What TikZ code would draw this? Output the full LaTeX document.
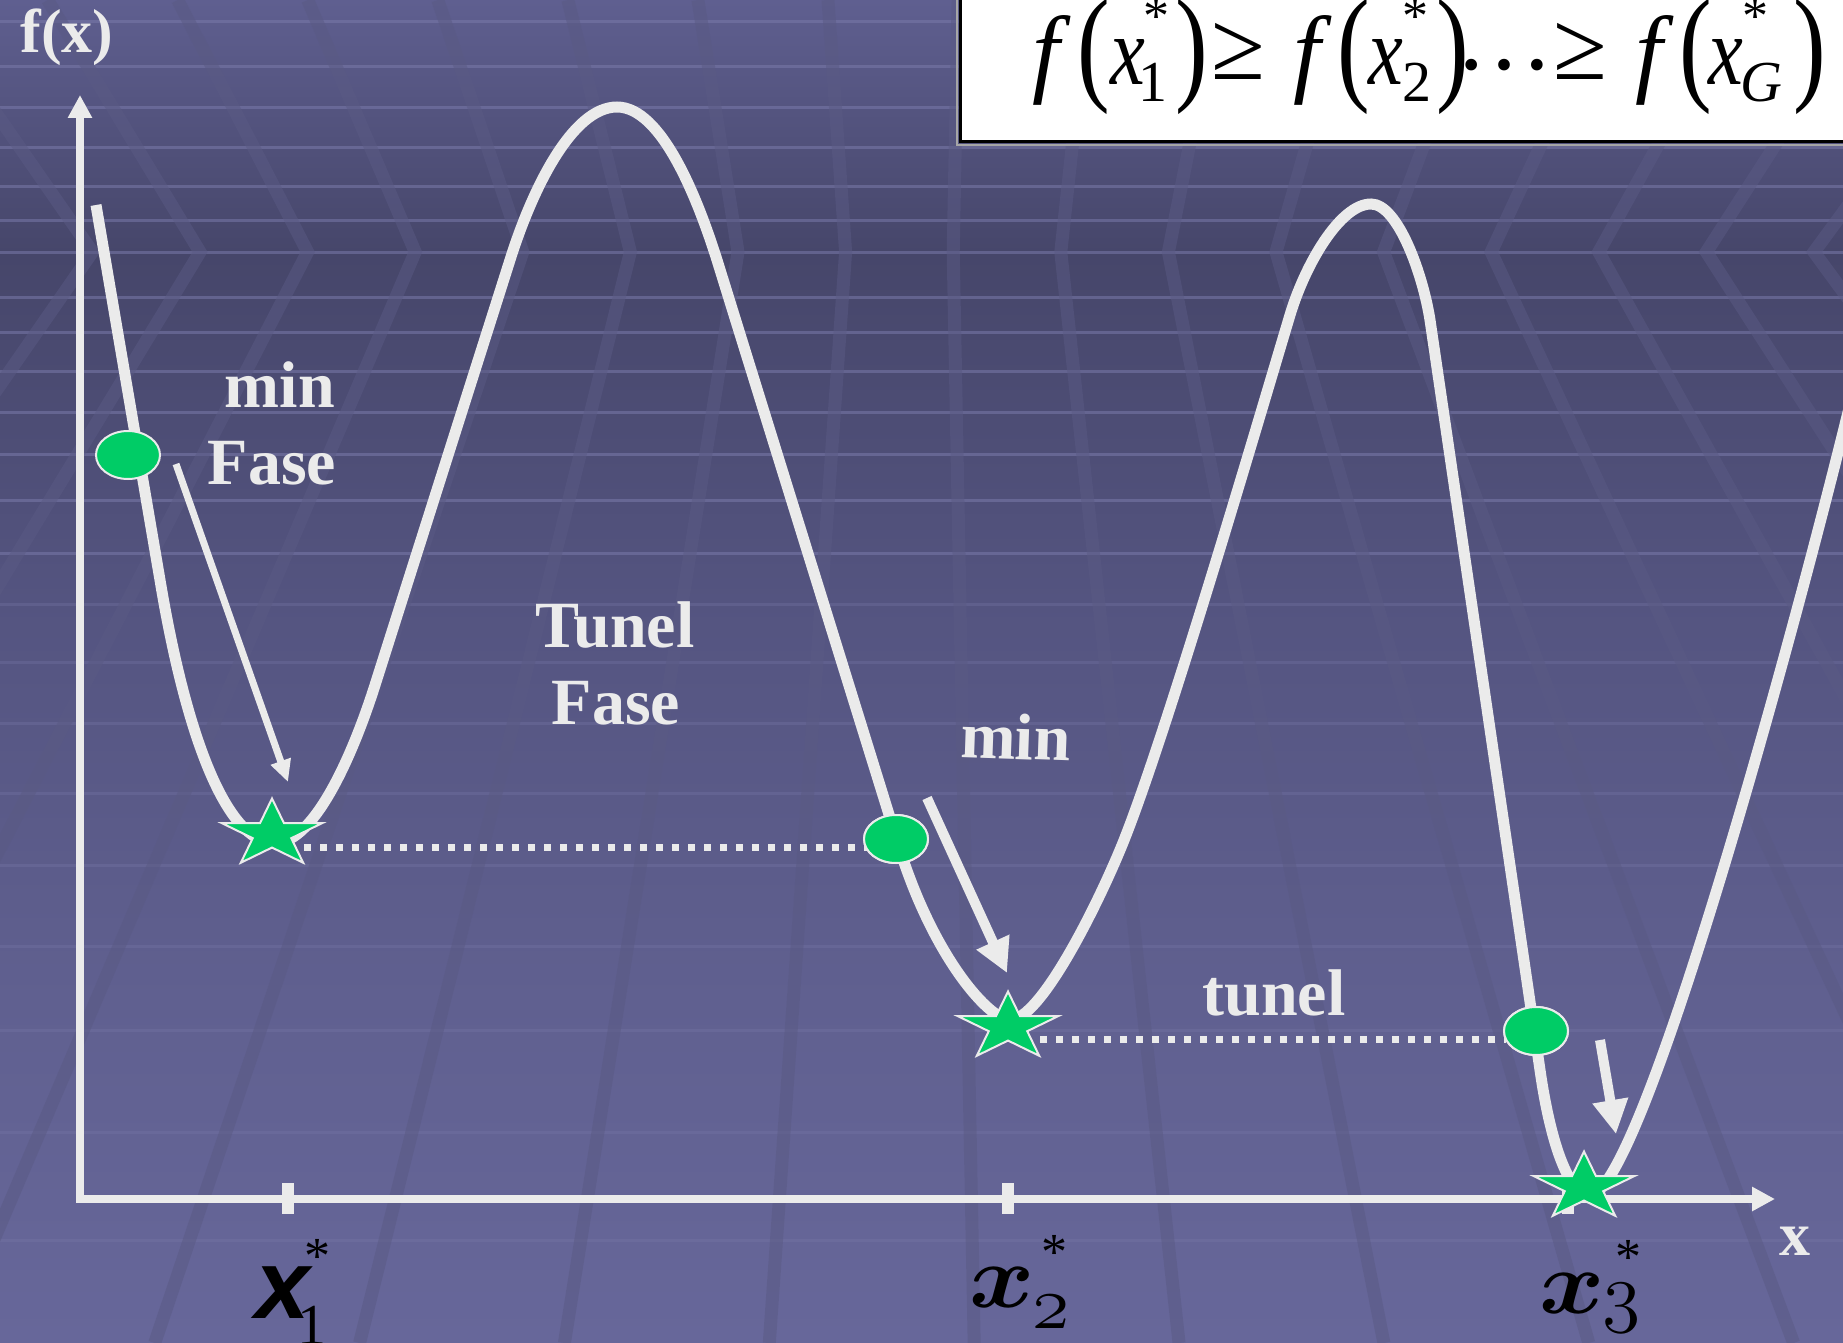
\RequirePackage{fix-cm}
\documentclass[tikz,border=0pt]{standalone}
\usepackage{fontspec}
\setmainfont{Liberation Serif}
\newfontfamily\arialfont{Liberation Sans}
\usepackage{graphicx}
\usetikzlibrary{arrows.meta,shapes.geometric,calc}
\definecolor{ink}{HTML}{EBEBEB}
\definecolor{gr}{HTML}{00CC66}
\definecolor{bgA}{HTML}{5F5F90}
\definecolor{bgB}{HTML}{46466A}
\definecolor{bgC}{HTML}{545480}
\definecolor{bgD}{HTML}{606090}
\definecolor{bgE}{HTML}{67679A}
\definecolor{hl}{HTML}{7A7AAA}
\definecolor{bandc}{HTML}{5A5A84}
\newcommand\greenstar[1]{\begin{scope}[shift={(#1)}]
  \filldraw[starsty] plot[samples at={0,...,9}]
   ({53*(0.691+0.309*cos(180*\x))*sin(36*\x)},{-35.5*(0.691+0.309*cos(180*\x))*cos(36*\x)}) -- cycle;
  \end{scope}}
\begin{document}
\begin{tikzpicture}[x=0.5pt,y=-0.5pt,
  hline/.style={draw=hl, line width=1.5pt, opacity=0.55},
  hlinelow/.style={draw=hl, line width=1.5pt, opacity=0.3},
  band/.style={draw=bandc, line width=6.5pt, opacity=0.5, line join=miter},
  axisln/.style={draw=ink, line width=3.75pt},
  tickln/.style={draw=ink, line width=6pt},
  curveln/.style={draw=ink, line width=5.5pt},
  dotln/.style={draw=ink, line width=3.5pt, dash pattern=on 3.5pt off 4.5pt},
  thinarrow/.style={draw=ink, line width=3.5pt, -{Triangle[width=10pt,length=11pt]}},
  fatarrow/.style={draw=ink, line width=5pt, -{Triangle[width=17pt,length=17pt]}},
  ell/.style={ellipse, minimum width=32pt, minimum height=24pt, inner sep=0pt, fill=gr, draw=ink, line width=1pt},
  starsty/.style={fill=gr, draw=ink, line width=1pt, line join=miter},
  lbl/.style={anchor=base, inner sep=0pt, text=ink, font=\fontsize{33}{33}\selectfont\bfseries},
  axlbl/.style={anchor=base, inner sep=0pt, text=ink, font=\fontsize{31}{31}\selectfont\bfseries},
  fbig/.style={anchor=base, inner sep=0pt, font=\fontsize{49}{49}\selectfont\itshape},
  fpar/.style={anchor=base, inner sep=0pt, font=\fontsize{49}{49}\selectfont},
  fsub/.style={anchor=base, inner sep=0pt, font=\fontsize{29}{29}\selectfont},
  fast/.style={anchor=base, inner sep=0pt, font=\fontsize{26}{26}\selectfont}]
\useasboundingbox (0,0) rectangle (1843,1343);
% background
\shade[top color=bgA, bottom color=bgB] (0,0) rectangle (1843,253);
\shade[top color=bgB, bottom color=bgC] (0,252) rectangle (1843,601);
\shade[top color=bgC, bottom color=bgD] (0,600) rectangle (1843,1001);
\shade[top color=bgD, bottom color=bgE] (0,1000) rectangle (1843,1343);
\foreach \yy in {22,67,108,148,187,220,252,297,332,371,412,454,500,553}
  \draw[hline] (0,\yy) -- (1843,\yy);
\foreach \yy in {604,662,723,793,865,946,1030,1132,1240}
  \draw[hlinelow] (0,\yy) -- (1843,\yy);
\foreach \k in {-3,...,17} {
  \pgfmathsetmacro\xv{200+107.6*\k}
  \pgfmathsetmacro\xt{930+1.2088*(\xv-930)}
  \pgfmathsetmacro\xb{930+1.904*(\xv-930)}
  \draw[band] (\xt,0) -- (\xv,252) -- (\xb,1343);
}
% axes
\coordinate (O) at (80,1199);
\coordinate (ytip) at (80,95);
\coordinate (xtip) at (1775,1199);
\draw[axisln, {Triangle[width=11.5pt,length=11.5pt]}-{Triangle[width=11.5pt,length=11.5pt]}] (ytip) -- (O) -- (xtip);
\draw[tickln] (288,1183) -- (288,1214);
\draw[tickln] (1008,1183) -- (1008,1214);
\draw[tickln] (1568,1183) -- (1568,1214);
% curve
\draw[curveln] (96,205) -- (160,580) .. controls (185,730) and (225,843) .. (275,843)
 .. controls (315,843) and (354,752) .. (376,682) -- (510,260)
 .. controls (532,190) and (572,107) .. (617,107)
 .. controls (662,107) and (698,200) .. (717,260) -- (900,850)
 .. controls (935,960) and (990,1020) .. (1010,1020)
 .. controls (1040,1020) and (1095,910) .. (1120,850)
 .. controls (1162,750) and (1260,415) .. (1290,315)
 .. controls (1305,265) and (1340,204) .. (1371,204)
 .. controls (1398,204) and (1423,275) .. (1430,320) -- (1540,1070)
 .. controls (1550,1140) and (1568,1195) .. (1590,1195)
 .. controls (1640,1195) and (1790,650) .. (1850,404);
% markers
\coordinate (s1) at (272,834);
\coordinate (s2) at (1008,1027);
\coordinate (s3) at (1584,1187);
\node[ell] (e1) at (128,455) {};
\node[ell] (e2) at (896,839) {};
\node[ell] (e3) at (1536,1031) {};
\draw[dotln] ($(s1)+(32,13)$) -- ($(e2)+(-29,8)$);
\draw[dotln] ($(s2)+(32,12)$) -- ($(e3)+(-30,8)$);
\node[ell] at (e2) {};
\node[ell] at (e3) {};
% arrows
\coordinate (a1s) at (176,464); \coordinate (a1e) at (288,782);
\coordinate (a2s) at (927,798); \coordinate (a2e) at (1007,973);
\coordinate (a3s) at (1600,1040); \coordinate (a3e) at (1616,1134);
\draw[thinarrow] (a1s) -- (a1e);
\draw[fatarrow] (a2s) -- (a2e);
\draw[fatarrow] (a3s) -- (a3e);
\greenstar{s1}
\greenstar{s2}
\greenstar{s3}
% labels
\node[lbl] (minA) at (280,407) {min};
\node[lbl] (faseA) at (272,484) {Fase};
\node[lbl] (tunelB) at (615,647) {Tunel};
\node[lbl] (faseB) at (616,724) {Fase};
\node[lbl, rotate=-2] (minC) at (1015,759) {min};
\node[lbl] (tunelD) at (1274,1015) {tunel};
\node[axlbl] (fx) at (67,53) {f(x)};
\node[axlbl] (xlab) at (1795,1255) {x};
% axis value labels
\node[anchor=base, inner sep=0pt, font={\fontsize{49}{49}\arialfont\bfseries\itshape}] (x1l) at (283,1318) {x};
\node[fsub] (x1s) at (312,1344) {1};
\node[fast] (x1a) at (317,1273) {*};
\node[anchor=base, inner sep=0pt, font=\fontsize{45}{45}\selectfont\boldmath] (x2l) at (1002,1307) {\scalebox{1.1}[1]{$x$}};
\node[anchor=base, inner sep=0pt, font=\fontsize{38}{38}\selectfont] (x2s) at (1051,1328) {$\mathnormal{2}$};
\node[fast] (x2a) at (1054,1269) {*};
\node[anchor=base, inner sep=0pt, font=\fontsize{45}{45}\selectfont\boldmath] (x3l) at (1572,1313) {\scalebox{1.1}[1]{$x$}};
\node[anchor=base, inner sep=0pt, font=\fontsize{39}{39}\selectfont] (x3s) at (1622,1317) {$\mathnormal{3}$};
\node[fast] (x3a) at (1628,1274) {*};
% formula box
\draw[draw=gray!70, line width=1pt] (957,-10) -- (957,145) -- (1860,145);
\filldraw[fill=white, draw=black, line width=1.5pt] (960,-10) rectangle (1860,142);
\node[fbig] (ff1) at (1046,85) {f};
\node[fpar] (lp1) at (1094,88) {\scalebox{1}[1.3]{(}};
\node[fbig] (fx1) at (1128,85) {\scalebox{0.8}[1]{x}};
\node[fast] (fa1) at (1156,34) {*};
\node[fsub] (fs1) at (1153,102) {1};
\node[fpar] (rp1) at (1192,88) {\scalebox{1}[1.3]{)}};
\node[fpar] (ge1) at (1238,80) {≥};
\node[fbig] (ff2) at (1307,85) {f};
\node[fpar] (lp2) at (1354,88) {\scalebox{1}[1.3]{(}};
\node[fbig] (fx2) at (1386,85) {\scalebox{0.8}[1]{x}};
\node[fast] (fa2) at (1415,34) {*};
\node[fsub] (fs2) at (1417,102) {2};
\node[fpar] (rp2) at (1453,88) {\scalebox{1}[1.3]{)}};
\node[fpar] (dots) at (1504,70) {…};
\node[fpar] (ge2) at (1580,80) {≥};
\node[fbig] (ff3) at (1649,85) {f};
\node[fpar] (lp3) at (1696,88) {\scalebox{1}[1.3]{(}};
\node[fbig] (fx3) at (1726,85) {\scalebox{0.8}[1]{x}};
\node[fast] (fa3) at (1755,34) {*};
\node[fsub, font=\fontsize{29}{29}\selectfont\itshape] (fs3) at (1761,102) {G};
\node[fpar] (rp3) at (1810,88) {\scalebox{1}[1.3]{)}};
\end{tikzpicture}
\end{document}
